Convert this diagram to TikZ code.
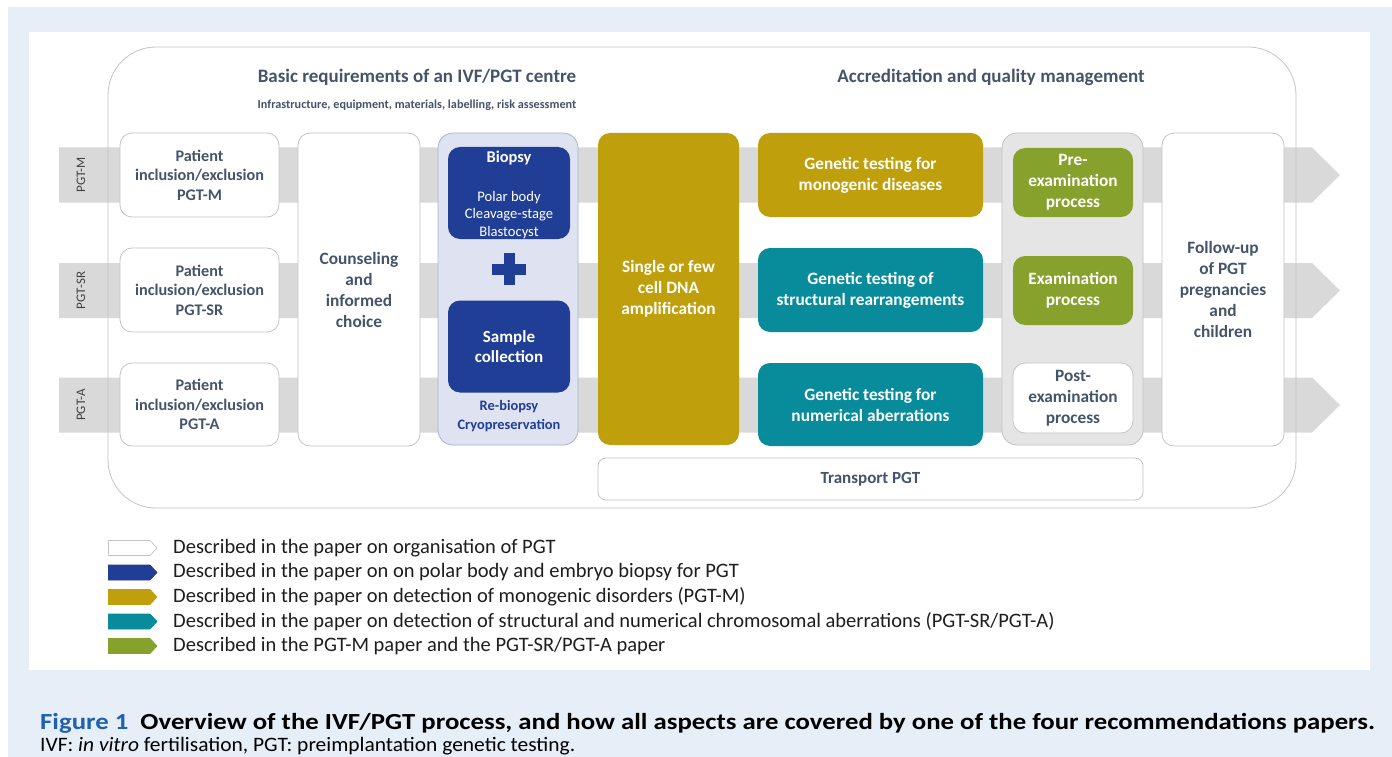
\documentclass[tikz,border=0pt]{standalone}
\usepackage{fontspec}
\setmainfont{Carlito}
\usepackage{graphicx}
\definecolor{bgblue}{RGB}{230,238,248}
\definecolor{bandc}{RGB}{217,217,217}
\definecolor{framec}{RGB}{195,195,200}
\definecolor{darktext}{RGB}{68,84,106}
\definecolor{dblue}{RGB}{32,62,150}
\definecolor{gold}{RGB}{191,160,12}
\definecolor{teal}{RGB}{8,140,156}
\definecolor{green}{RGB}{134,162,44}
\definecolor{lav}{RGB}{222,226,241}
\definecolor{lavborder}{RGB}{170,178,205}
\definecolor{greyc}{RGB}{229,229,229}
\definecolor{figblue}{RGB}{32,96,176}
\definecolor{legtext}{RGB}{30,30,30}
\tikzset{
  box/.style={draw=framec, fill=white, rounded corners=12pt, line width=0.8pt, align=center,
    text=darktext, font=\fontsize{16.2}{19.5}\selectfont\bfseries, inner sep=0pt},
  colbox/.style={box, draw=none, text=white},
  txt/.style={align=center, inner sep=0pt, text=darktext},
  leg/.style={anchor=west, inner sep=0pt, text=legtext, font=\fontsize{20.5}{22}\selectfont},
  bigtxt/.style={font=\fontsize{17.3}{21}\selectfont\bfseries},
}
\begin{document}
\begin{tikzpicture}[x=1pt,y=-1pt]
\useasboundingbox (0,0) rectangle (1392,757);
\fill[white] (0,0) rectangle (1392,757);
\fill[bgblue] (8,7) rectangle (1392,757);
\fill[white] (29,32) rectangle (1370,670);

% bands
\foreach \c/\lab/\n in {175/PGT-M/m, 290.5/PGT-SR/sr, 405/PGT-A/a}{
  \fill[bandc] (59,{\c-27.5}) -- (1312,{\c-27.5}) -- (1340,\c) -- (1312,{\c+27.5}) -- (59,{\c+27.5}) -- cycle;
  \node[rotate=90, inner sep=0pt, text=black!75, font=\fontsize{13}{15}\selectfont] (lab\n) at (81,\c) {\lab};
}
% frame
\draw[framec, line width=0.8pt, rounded corners=48pt] (108,47) rectangle (1296,508);

% headers
\node[txt, font=\fontsize{19}{22}\selectfont\bfseries] (h1) at (417,77) {Basic requirements of an IVF/PGT centre};
\node[txt, font=\fontsize{12.2}{14}\selectfont\bfseries] (h1s) at (417,105) {Infrastructure, equipment, materials, labelling, risk assessment};
\node[txt, font=\fontsize{19}{22}\selectfont\bfseries] (h2) at (991,77) {Accreditation and quality management};

% patient boxes
\node[box, minimum width=159pt, minimum height=84pt] (pm) at (199.5,175) {Patient\\inclusion/exclusion\\PGT-M};
\node[box, minimum width=159pt, minimum height=84pt] (psr) at (199.5,290) {Patient\\inclusion/exclusion\\PGT-SR};
\node[box, minimum width=159pt, minimum height=83pt] (pa) at (199.5,404.5) {Patient\\inclusion/exclusion\\PGT-A};

% counseling
\node[box, bigtxt, minimum width=122pt, minimum height=313pt] (couns) at (359,289.5) {Counseling\\and\\informed\\choice};

% biopsy container
\node[box, draw=lavborder, fill=lav, rounded corners=15pt, minimum width=140pt, minimum height=312pt] (bcont) at (508,289) {};
\node[colbox, fill=dblue, minimum width=122pt, minimum height=92pt] (biopsy) at (509,193) {};
\node[txt, text=white, font=\fontsize{16.4}{18}\selectfont\bfseries] (biopsyt) at (509,158) {Biopsy};
\node[txt, text=white, font=\fontsize{14.6}{17.6}\selectfont] (biopsyl) at (509,215) {Polar body\\Cleavage-stage\\Blastocyst};
\fill[dblue] (492,263.5) rectangle (526,274.5);
\fill[dblue] (503.5,253) rectangle (514.5,285);
\coordinate (plus) at (509,269);
\node[colbox, fill=dblue, minimum width=122pt, minimum height=92pt, font=\fontsize{17}{20.5}\selectfont\bfseries] (sample) at (509,346.5) {Sample\\collection};
\node[txt, text=dblue, font=\fontsize{14.4}{19}\selectfont\bfseries] (rebiop) at (509,416.5) {Re-biopsy\\Cryopreservation};

% DNA amplification
\node[colbox, bigtxt, fill=gold, minimum width=141pt, minimum height=312pt] (dna) at (668.5,289) {Single or few\\cell DNA\\amplification};

% genetic testing
\node[colbox, bigtxt, fill=gold, minimum width=225pt, minimum height=84pt] (gm) at (870.5,175) {Genetic testing for\\monogenic diseases};
\node[colbox, bigtxt, fill=teal, minimum width=225pt, minimum height=84pt] (gsr) at (870.5,290) {Genetic testing of\\structural rearrangements};
\node[colbox, bigtxt, fill=teal, minimum width=225pt, minimum height=83pt] (ga) at (870.5,404.5) {Genetic testing for\\numerical aberrations};

% examination container
\node[box, fill=greyc, rounded corners=15pt, minimum width=141pt, minimum height=312pt] (econt) at (1072.5,289) {};
\node[colbox, bigtxt, fill=green, minimum width=120pt, minimum height=69pt] (pre) at (1073,182.5) {Pre-\\examination\\process};
\node[colbox, bigtxt, fill=green, minimum width=120pt, minimum height=69pt] (exam) at (1073,290.5) {Examination\\process};
\node[box, bigtxt, minimum width=120pt, minimum height=70pt] (post) at (1073,398) {Post-\\examination\\process};

% follow-up
\node[box, bigtxt, minimum width=122pt, minimum height=313pt] (follow) at (1223,289.5) {Follow-up\\of PGT\\pregnancies\\and\\children};

% transport
\node[box, rounded corners=8pt, minimum width=545pt, minimum height=42pt, font=\fontsize{17}{20}\selectfont\bfseries] (transport) at (870.5,479) {Transport PGT};

% legend
\foreach \y/\f/\d/\t/\n in {
  548/white/framec/{Described in the paper on organisation of PGT}/1,
  572.5/dblue/dblue/{Described in the paper on on polar body and embryo biopsy for PGT}/2,
  597/gold/gold/{Described in the paper on detection of monogenic disorders (PGT-M)}/3,
  621.5/teal/teal/{Described in the paper on detection of structural and numerical chromosomal aberrations (PGT-SR/PGT-A)}/4,
  646/green/green/{Described in the PGT-M paper and the PGT-SR/PGT-A paper}/5}{
  \filldraw[fill=\f, draw=\d, line width=0.7pt] (108.5,{\y-7.5}) -- (150,{\y-7.5}) -- (157,\y) -- (150,{\y+7.5}) -- (108.5,{\y+7.5}) -- cycle;
  \node[leg] (leg\n) at (173,\y) {\t};
}

% caption
\node[anchor=west, inner sep=0pt, font=\fontsize{23}{26}\selectfont\bfseries] (cap1) at (40,723)
  {\resizebox{1335pt}{\height}{\textcolor{figblue}{Figure 1}\hspace{0.45em}Overview of the IVF/PGT process, and how all aspects are covered by one of the four recommendations papers.}};
\node[anchor=west, inner sep=0pt, font=\fontsize{20.5}{24}\selectfont] (cap2) at (40,746)
  {\resizebox{535pt}{\height}{IVF: \textit{in vitro} fertilisation, PGT: preimplantation genetic testing.}};
\end{tikzpicture}
\end{document}
